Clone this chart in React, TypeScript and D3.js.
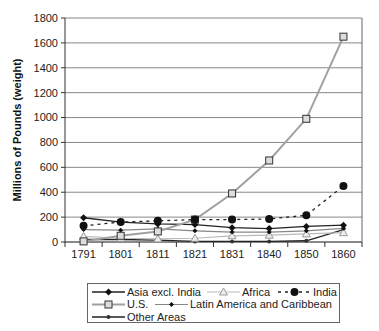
import React from "react";
import * as d3 from "d3";

const years = ["1791", "1801", "1811", "1821", "1831", "1840", "1850", "1860"];
const asia = [195, 160, 145, 140, 115, 108, 125, 135];
const africa = [45, 30, 25, 30, 50, 55, 65, 75];
const india = [130, 160, 170, 180, 180, 185, 215, 450];
const us = [5, 50, 85, 180, 390, 655, 990, 1650];
const latin = [100, 95, 105, 90, 80, 80, 90, 110];
const other = [20, 20, 15, 5, 5, 5, 10, 100];
const yTicks = [0, 200, 400, 600, 800, 1000, 1200, 1400, 1600, 1800];

const W = 379, H = 331;
const L = 65, R = 362, T = 18, B = 242;

type Marker = "diamond" | "triangle" | "dot" | "square" | "smalldiamond" | "smalldot";
interface S { name: string; values: number[]; color: string; width: number; dash?: string; marker: Marker; }

const series: S[] = [
  { name: "Other Areas", values: other, color: "#222", width: 1.3, marker: "smalldot" },
  { name: "Africa", values: africa, color: "#bbb", width: 1.2, marker: "triangle" },
  { name: "Latin America and Caribbean", values: latin, color: "#888", width: 1.2, marker: "smalldiamond" },
  { name: "Asia excl. India", values: asia, color: "#222", width: 1.3, marker: "diamond" },
  { name: "U.S.", values: us, color: "#a0a0a0", width: 2, marker: "square" },
  { name: "India", values: india, color: "#222", width: 1.3, dash: "3,4", marker: "dot" },
];

function MarkerShape({ m, x, y }: { m: Marker; x: number; y: number }) {
  switch (m) {
    case "diamond":
      return <path d={`M${x},${y - 3.5}L${x + 3.5},${y}L${x},${y + 3.5}L${x - 3.5},${y}Z`} fill="#111" />;
    case "smalldiamond":
      return <path d={`M${x},${y - 2.5}L${x + 2.5},${y}L${x},${y + 2.5}L${x - 2.5},${y}Z`} fill="#111" />;
    case "triangle":
      return <path d={`M${x},${y - 4}L${x + 4},${y + 3}L${x - 4},${y + 3}Z`} fill="#eee" stroke="#999" strokeWidth={1} />;
    case "dot":
      return <circle cx={x} cy={y} r={4} fill="#111" />;
    case "smalldot":
      return <circle cx={x} cy={y} r={2} fill="#333" />;
    case "square":
      return <rect x={x - 3.5} y={y - 3.5} width={7} height={7} fill="#ddd" stroke="#333" strokeWidth={1} />;
  }
}

export default function App() {
  const x = d3.scaleBand<string>().domain(years).range([L, R]);
  const y = d3.scaleLinear().domain([0, 1800]).range([B, T]);
  const cx = (d: string) => (x(d) as number) + x.bandwidth() / 2;
  const line = d3.line<number>().x((_, i) => cx(years[i])).y((v) => y(v));
  const font = "Liberation Sans, Arial, sans-serif";
  const boundaries = years.map((d) => x(d) as number).concat([R]);

  const legendItems: { s: string; x: number; row: number }[] = [
    { s: "Asia excl. India", x: 92, row: 0 },
    { s: "Africa", x: 207, row: 0 },
    { s: "India", x: 278, row: 0 },
    { s: "U.S.", x: 92, row: 1 },
    { s: "Latin America and Caribbean", x: 155, row: 1 },
    { s: "Other Areas", x: 92, row: 2 },
  ];
  const rowY = [292, 304.5, 317];

  return (
    <svg width={W} height={H} style={{ position: "absolute", left: 0, top: 0, background: "#fff" }} fontFamily={font}>
      <rect width={W} height={H} fill="#fff" />
      {yTicks.map((t) => (
        <g key={t}>
          <line x1={L} x2={R} y1={y(t)} y2={y(t)} stroke={t === 0 ? "#aaa" : "#888"} strokeWidth={t === 0 ? 1.5 : 1} />
          <line x1={L - 4} x2={L} y1={y(t)} y2={y(t)} stroke="#333" />
          <text x={L - 7} y={y(t)} dy="0.35em" textAnchor="end" fontSize={11} fill="#222">{t}</text>
        </g>
      ))}
      <line x1={R} x2={R} y1={T} y2={B} stroke="#666" />
      <line x1={L} x2={L} y1={T} y2={B + 0.5} stroke="#333" />
      <line x1={L} x2={R} y1={B} y2={B} stroke="#555" />
      {boundaries.map((b, i) => (
        <line key={i} x1={b} x2={b} y1={B} y2={B + 5} stroke="#333" />
      ))}
      {years.map((d) => (
        <text key={d} x={cx(d)} y={B + 15.5} textAnchor="middle" fontSize={11} fill="#222">{d}</text>
      ))}
      <text transform={`translate(21,${(T + B) / 2}) rotate(-90)`} textAnchor="middle" fontSize={11} fontWeight="bold" fill="#111">
        Millions of Pounds (weight)
      </text>
      {series.map((s) => (
        <path key={s.name} d={line(s.values) || ""} fill="none" stroke={s.color} strokeWidth={s.width} strokeDasharray={s.dash} />
      ))}
      {series.map((s) => (
        <g key={s.name + "m"}>
          {s.values.map((v, i) => (
            <MarkerShape key={i} m={s.marker} x={cx(years[i])} y={y(v)} />
          ))}
        </g>
      ))}
      <rect x={87.5} y={283.5} width={252} height={39} fill="#fff" stroke="#666" />
      {legendItems.map((li) => {
        const s = series.find((q) => q.name === li.s)!;
        const yy = rowY[li.row];
        return (
          <g key={li.s}>
            <line x1={li.x} x2={li.x + 33} y1={yy} y2={yy} stroke={s.color} strokeWidth={s.width} strokeDasharray={s.dash} />
            <MarkerShape m={s.marker} x={li.x + 16.5} y={yy} />
            <text x={li.x + 35} y={yy} dy="0.35em" fontSize={11} fill="#222">{s.name}</text>
          </g>
        );
      })}
    </svg>
  );
}
